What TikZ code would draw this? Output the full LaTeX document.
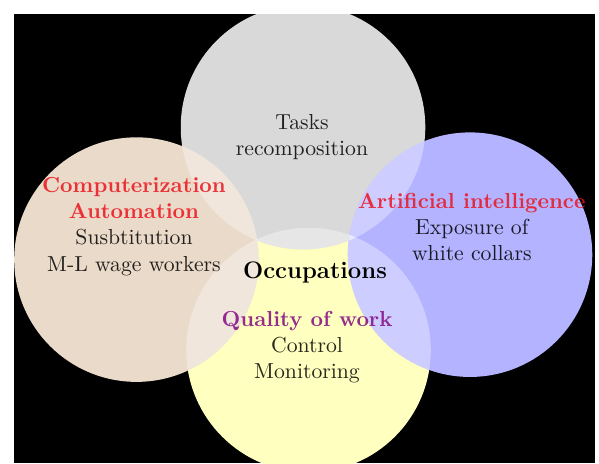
\documentclass[tikz,border=0pt]{standalone}
\usepackage{amsmath,amssymb,tikz}

\definecolor{col-gr}{RGB}{217,217,217}
\definecolor{col-pe}{RGB}{234,218,201}
\definecolor{col-bl}{RGB}{179,179,255}
\definecolor{col-ye}{RGB}{255,255,192}
\definecolor{headred}{RGB}{235,20,30}
\definecolor{headpurple}{RGB}{130,10,130}

\begin{document}
\begin{tikzpicture}[every node/.style={align=center, text=black, text opacity=.85}]
    \useasboundingbox (0,0) rectangle (9.70,7.50);
    \fill[black] (0.227,0) rectangle (9.636,7.271);
    \coordinate (ye) at (4.996,1.830);
    \coordinate (gr) at (4.907,5.441);
    \coordinate (pe) at (2.210,3.296);
    \coordinate (bl) at (7.611,3.376);
    \begin{scope}
        \clip (0.227,0) rectangle (9.636,7.271);
        \foreach \c in {ye,gr,pe,bl}
            \fill[col-\c] (\c) circle (1.98);
        \foreach \p/\q in {gr/ye,gr/pe,gr/bl,pe/ye,bl/ye} {
            \begin{scope}
                \clip (\p) circle (1.98);
                \fill[white, opacity=.35] (\q) circle (1.98);
            \end{scope}
        }
    \end{scope}
    \node (tasks) at (4.891,5.280) {Tasks\\recomposition};
    \node (autom) at (2.170,3.830) {\textcolor{headred}{\bfseries Computerization}\\
        \textcolor{headred}{\bfseries Automation}\\Susbtitution\\M-L wage workers};
    \node (aiexp) at (7.640,3.830) {\textcolor{headred}{\bfseries Artificial intelligence}\\
        Exposure of\\white collars};
    \node[text opacity=1, font=\fontsize{11}{13}\selectfont\bfseries] (occup) at (5.101,3.093) {Occupations};
    \node (quality) at (4.972,1.883) {\textcolor{headpurple}{\bfseries Quality of work}\\
        Control\\Monitoring};
\end{tikzpicture}
\end{document}
